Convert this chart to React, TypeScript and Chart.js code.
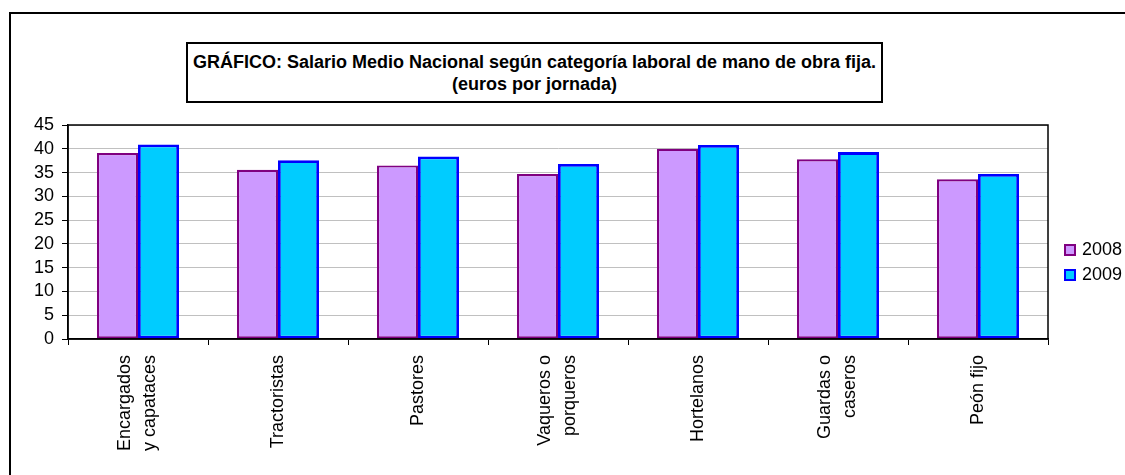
import React, { useEffect, useRef } from "react";
import { Chart, registerables } from "chart.js";

Chart.register(...registerables);

// ---- data ----
const categoryLines: string[][] = [
  ["Encargados", "y capataces"],
  ["Tractoristas"],
  ["Pastores"],
  ["Vaqueros o", "porqueros"],
  ["Hortelanos"],
  ["Guardas o", "caseros"],
  ["Peón fijo"],
];
const seriesNames = ["2008", "2009"];
const values2008 = [39.1, 35.6, 36.5, 34.7, 40.0, 37.8, 33.6];
const values2009 = [40.9, 37.6, 38.4, 36.8, 40.8, 39.3, 34.7];
const yMin = 0;
const yMax = 45;
const yStep = 5;
const titleLines = [
  "GRÁFICO: Salario Medio Nacional según categoría laboral de mano de obra fija.",
  "(euros por jornada)",
];
const fillColors = ["#CC99FF", "#00CCFF"];
const borderColors = ["#800080", "#0000FF"];

const FONT = "'Liberation Sans', Arial, sans-serif";

const framePlugin = {
  id: "framePlugin",
  afterDraw(chart: any) {
    const { ctx, chartArea: a, scales } = chart;
    ctx.save();
    ctx.strokeStyle = "#000";
    ctx.lineWidth = 1.5;
    ctx.strokeRect(a.left, a.top, a.right - a.left, a.bottom - a.top);
    const xs = scales.x;
    ctx.font = `18px ${FONT}`;
    ctx.fillStyle = "#000";
    ctx.textAlign = "right";
    ctx.textBaseline = "middle";
    const lh = 25;
    categoryLines.forEach((lines, i) => {
      const x = xs.getPixelForTick(i);
      ctx.save();
      ctx.translate(x, a.bottom + 16);
      ctx.rotate(-Math.PI / 2);
      lines.forEach((t, j) => {
        ctx.fillText(t, 0, (j - (lines.length - 1) / 2) * lh);
      });
      ctx.restore();
    });
    ctx.restore();
  },
};

export default function App() {
  const canvasRef = useRef<HTMLCanvasElement | null>(null);

  useEffect(() => {
    if (!canvasRef.current) return;
    const series = [values2008, values2009];
    const chart = new Chart(canvasRef.current, {
      type: "bar",
      data: {
        labels: categoryLines.map((l) => l.join(" ")),
        datasets: series.map((vals, i) => ({
          label: seriesNames[i],
          data: vals,
          backgroundColor: fillColors[i],
          borderColor: borderColors[i],
          borderWidth: i === 0 ? 2.2 : 2.8,
          borderSkipped: false,
          categoryPercentage: 0.586,
          barPercentage: 1.0,
        })),
      },
      options: {
        responsive: false,
        maintainAspectRatio: false,
        animation: false,
        layout: { padding: { left: 0, top: 125, right: 77, bottom: 0 } },
        plugins: {
          legend: { display: false },
          title: { display: false },
          tooltip: { enabled: false },
        },
        scales: {
          x: {
            grid: {
              display: true,
              drawOnChartArea: false,
              drawTicks: true,
              tickLength: 6,
              tickColor: "#000",
              offset: true,
            },
            border: { color: "#000", width: 1.5 },
            ticks: { display: false },
            afterFit: (s: any) => {
              s.height = 136;
            },
          },
          y: {
            min: yMin,
            max: yMax,
            ticks: {
              stepSize: yStep,
              autoSkip: false,
              color: "#000",
              padding: 8,
              font: { family: FONT, size: 18 },
            },
            grid: {
              color: "#c0c0c0",
              lineWidth: 1,
              tickColor: "#000",
              tickLength: 6,
            },
            border: { color: "#000", width: 1.5 },
            afterFit: (s: any) => {
              s.width = 68;
            },
          },
        },
      },
      plugins: [framePlugin],
    });
    return () => chart.destroy();
  }, []);

  return (
    <div
      style={{
        position: "absolute",
        left: 0,
        top: 0,
        width: 1125,
        height: 475,
        overflow: "hidden",
        background: "#fff",
        fontFamily: FONT,
      }}
    >
      <div
        style={{
          position: "absolute",
          left: 9,
          top: 12,
          width: 1300,
          height: 700,
          border: "2px solid #000",
          boxSizing: "border-box",
        }}
      />
      <canvas
        ref={canvasRef}
        width={1125}
        height={475}
        style={{ position: "absolute", left: 0, top: 0, width: 1125, height: 475 }}
      />
      <div
        style={{
          position: "absolute",
          left: 186,
          top: 42,
          width: 697,
          height: 61,
          border: "2px solid #000",
          boxSizing: "border-box",
          background: "#fff",
          display: "flex",
          flexDirection: "column",
          justifyContent: "center",
          alignItems: "center",
          fontWeight: "bold",
          fontSize: 18,
          lineHeight: "22px",
          whiteSpace: "nowrap",
        }}
      >
        {titleLines.map((t, i) => (
          <div key={i}>{t}</div>
        ))}
      </div>
      <div style={{ position: "absolute", left: 1064, top: 237 }}>
        {seriesNames.map((n, i) => (
          <div
            key={n}
            style={{
              display: "flex",
              alignItems: "center",
              height: 25,
              fontSize: 18,
            }}
          >
            <span
              style={{
                display: "inline-block",
                width: 12,
                height: 12,
                boxSizing: "border-box",
                background: fillColors[i],
                border: `2px solid ${borderColors[i]}`,
                marginRight: 6,
              }}
            />
            <span>{n}</span>
          </div>
        ))}
      </div>
    </div>
  );
}
